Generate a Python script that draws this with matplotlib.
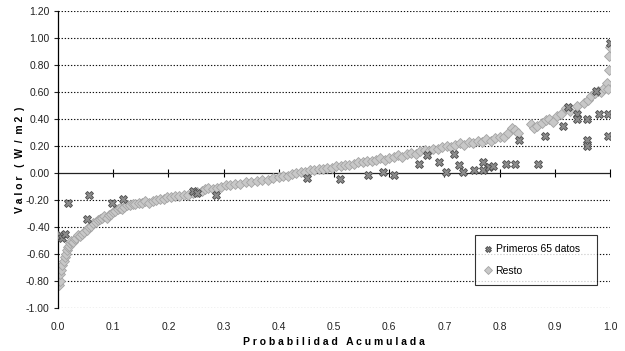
import matplotlib.pyplot as plt
import matplotlib.ticker as mticker

plt.rcParams["font.family"] = ["Liberation Sans", "DejaVu Sans"]

# Primeros 65 datos (probabilidad acumulada, valor W/m2)
prim_x = [0.004, 0.008, 0.012, 0.018, 0.053, 0.056, 0.098, 0.118, 0.245, 0.252,
          0.286, 0.451, 0.511, 0.562, 0.589, 0.609, 0.654, 0.668, 0.690, 0.703,
          0.717, 0.726, 0.734, 0.754, 0.770, 0.770, 0.781, 0.788, 0.812, 0.828,
          0.835, 0.870, 0.882, 0.915, 0.924, 0.940, 0.940, 0.958, 0.958, 0.958,
          0.975, 0.980, 0.996, 0.996, 1.000]
prim_y = [-0.46, -0.48, -0.45, -0.22, -0.34, -0.16, -0.22, -0.19, -0.13, -0.15,
          -0.16, -0.04, -0.045, -0.015, 0.01, -0.015, 0.067, 0.13, 0.08, 0.01,
          0.14, 0.06, 0.01, 0.02, 0.08, 0.02, 0.045, 0.05, 0.065, 0.065,
          0.245, 0.07, 0.275, 0.35, 0.49, 0.44, 0.40, 0.40, 0.245, 0.20,
          0.61, 0.44, 0.44, 0.275, 0.96]

# Resto de los datos
resto_x = [0.002, 0.003, 0.004, 0.006, 0.008, 0.010, 0.012, 0.014, 0.016, 0.018,
           0.020, 0.022, 0.024, 0.027, 0.030, 0.033, 0.036, 0.040, 0.043, 0.047,
           0.052, 0.056, 0.060, 0.064, 0.068, 0.072, 0.076, 0.080, 0.084, 0.088,
           0.092, 0.096, 0.100, 0.104, 0.108, 0.112, 0.116, 0.120, 0.125, 0.130,
           0.135, 0.140, 0.146, 0.152, 0.158, 0.165, 0.172, 0.178, 0.185, 0.192,
           0.198, 0.205, 0.212, 0.220, 0.228, 0.236, 0.244, 0.252, 0.260, 0.266,
           0.272, 0.280, 0.288, 0.296, 0.304, 0.312, 0.320, 0.330, 0.340, 0.350,
           0.360, 0.370, 0.380, 0.390, 0.400, 0.408, 0.416, 0.424, 0.432, 0.440,
           0.448, 0.456, 0.464, 0.472, 0.480, 0.488, 0.496, 0.504, 0.512, 0.520,
           0.528, 0.536, 0.544, 0.552, 0.560, 0.568, 0.576, 0.584, 0.592, 0.600,
           0.608, 0.616, 0.624, 0.632, 0.640, 0.648, 0.656, 0.664, 0.672, 0.680,
           0.688, 0.696, 0.704, 0.712, 0.720, 0.728, 0.736, 0.744, 0.752, 0.760,
           0.768, 0.776, 0.784, 0.792, 0.800, 0.808, 0.816, 0.822, 0.828, 0.834,
           0.856, 0.862, 0.868, 0.876, 0.884, 0.890, 0.896, 0.904, 0.912, 0.920,
           0.928, 0.940, 0.952, 0.960, 0.966, 0.972, 0.978, 0.984, 0.990, 0.994,
           0.996, 0.998, 0.999, 1.000]
resto_y = [-0.83, -0.80, -0.75, -0.72, -0.68, -0.65, -0.62, -0.60, -0.57, -0.55,
           -0.54, -0.52, -0.50, -0.51, -0.49, -0.48, -0.46, -0.47, -0.45, -0.44,
           -0.42, -0.40, -0.39, -0.37, -0.36, -0.35, -0.34, -0.33, -0.32, -0.33,
           -0.31, -0.30, -0.29, -0.28, -0.27, -0.26, -0.27, -0.25, -0.24, -0.24,
           -0.23, -0.23, -0.22, -0.22, -0.21, -0.22, -0.21, -0.20, -0.19, -0.19,
           -0.18, -0.18, -0.17, -0.17, -0.16, -0.16, -0.15, -0.14, -0.13, -0.12,
           -0.11, -0.12, -0.11, -0.10, -0.09, -0.09, -0.08, -0.08, -0.07, -0.07,
           -0.06, -0.05, -0.05, -0.04, -0.03, -0.02, -0.02, -0.01, 0.00, 0.01,
           0.01, 0.02, 0.02, 0.03, 0.03, 0.04, 0.04, 0.05, 0.05, 0.06,
           0.06, 0.07, 0.08, 0.08, 0.09, 0.09, 0.10, 0.11, 0.10, 0.11,
           0.12, 0.13, 0.12, 0.14, 0.15, 0.14, 0.16, 0.17, 0.16, 0.18,
           0.18, 0.19, 0.20, 0.19, 0.21, 0.22, 0.21, 0.23, 0.22, 0.24,
           0.23, 0.25, 0.24, 0.26, 0.27, 0.27, 0.30, 0.33, 0.32, 0.30,
           0.36, 0.33, 0.35, 0.37, 0.39, 0.40, 0.38, 0.42, 0.44, 0.48,
           0.46, 0.50, 0.52, 0.54, 0.57, 0.59, 0.61, 0.60, 0.63, 0.67,
           0.62, 0.76, 0.87, 0.93]

y_ticks = [-1.0, -0.8, -0.6, -0.4, -0.2, 0.0, 0.2, 0.4, 0.6, 0.8, 1.0, 1.2]
x_ticks = [0.0, 0.1, 0.2, 0.3, 0.4, 0.5, 0.6, 0.7, 0.8, 0.9, 1.0]

fig = plt.figure(figsize=(6.25, 3.51), dpi=100)
ax = fig.add_axes([58 / 625, 1 - 308 / 351, 552 / 625, 297 / 351])

ax.set_xlim(0, 1.0)
ax.set_ylim(-1.0, 1.2)

# lineas de cuadricula punteadas (el cero lleva linea solida)
for v in y_ticks:
    if v != 0:
        ax.axhline(v, color="#111111", lw=0.8, ls=(0, (1.2, 1.6)), zorder=1)
ax.axhline(0, color="#222222", lw=0.9, zorder=1)

ax.plot(resto_x, resto_y, ls="none", marker="D", markersize=4.8,
        markerfacecolor="#c8c8c8", markeredgecolor="#a4a4a4", markeredgewidth=0.6,
        label="Resto", zorder=2)
ax.plot(prim_x, prim_y, ls="none", marker="X", markersize=5.2,
        markerfacecolor="#8c8c8c", markeredgecolor="#4a4a4a", markeredgewidth=0.6,
        label="Primeros 65 datos", zorder=3)

for s in ["top", "right", "bottom"]:
    ax.spines[s].set_visible(False)
ax.spines["left"].set_linewidth(0.9)

ax.set_yticks(y_ticks)
ax.yaxis.set_major_formatter(mticker.FormatStrFormatter("%.2f"))
ax.set_xticks(x_ticks)
ax.xaxis.set_major_formatter(mticker.FormatStrFormatter("%.1f"))
ax.tick_params(axis="y", direction="out", length=3, width=0.8, labelsize=7.5,
               pad=3, colors="#222222")
ax.tick_params(axis="x", length=0, labelsize=7.5, pad=10, colors="#222222")

# eje x dibujado sobre y = 0 con marcas cruzadas
sec = ax.secondary_xaxis(1.0 / 2.2)
sec.set_xticks(x_ticks[1:])
sec.tick_params(direction="inout", length=6, width=0.8, labelbottom=False,
                labeltop=False)
sec.spines["bottom"].set_visible(False)
sec.spines["top"].set_visible(False)

ax.set_xlabel("P r o b a b i l i d a d   A c u m u l a d a", fontsize=7.5,
              fontweight="bold", labelpad=4)
ax.set_ylabel("V a l o r   (  W  /  m 2  )", fontsize=7.5, fontweight="bold",
              labelpad=1)

handles, labels = ax.get_legend_handles_labels()
leg = ax.legend(handles[::-1], labels[::-1], loc="lower left",
                bbox_to_anchor=(0.755, 0.077, 0.221, 0.135), mode="expand",
                fontsize=7.5, frameon=True, fancybox=False, edgecolor="black",
                borderpad=0.9, labelspacing=1.1, handlelength=0.8,
                handletextpad=0.3, borderaxespad=0, markerscale=0.8)
leg.get_frame().set_linewidth(0.8)

fig.savefig("out.png", dpi=100)
